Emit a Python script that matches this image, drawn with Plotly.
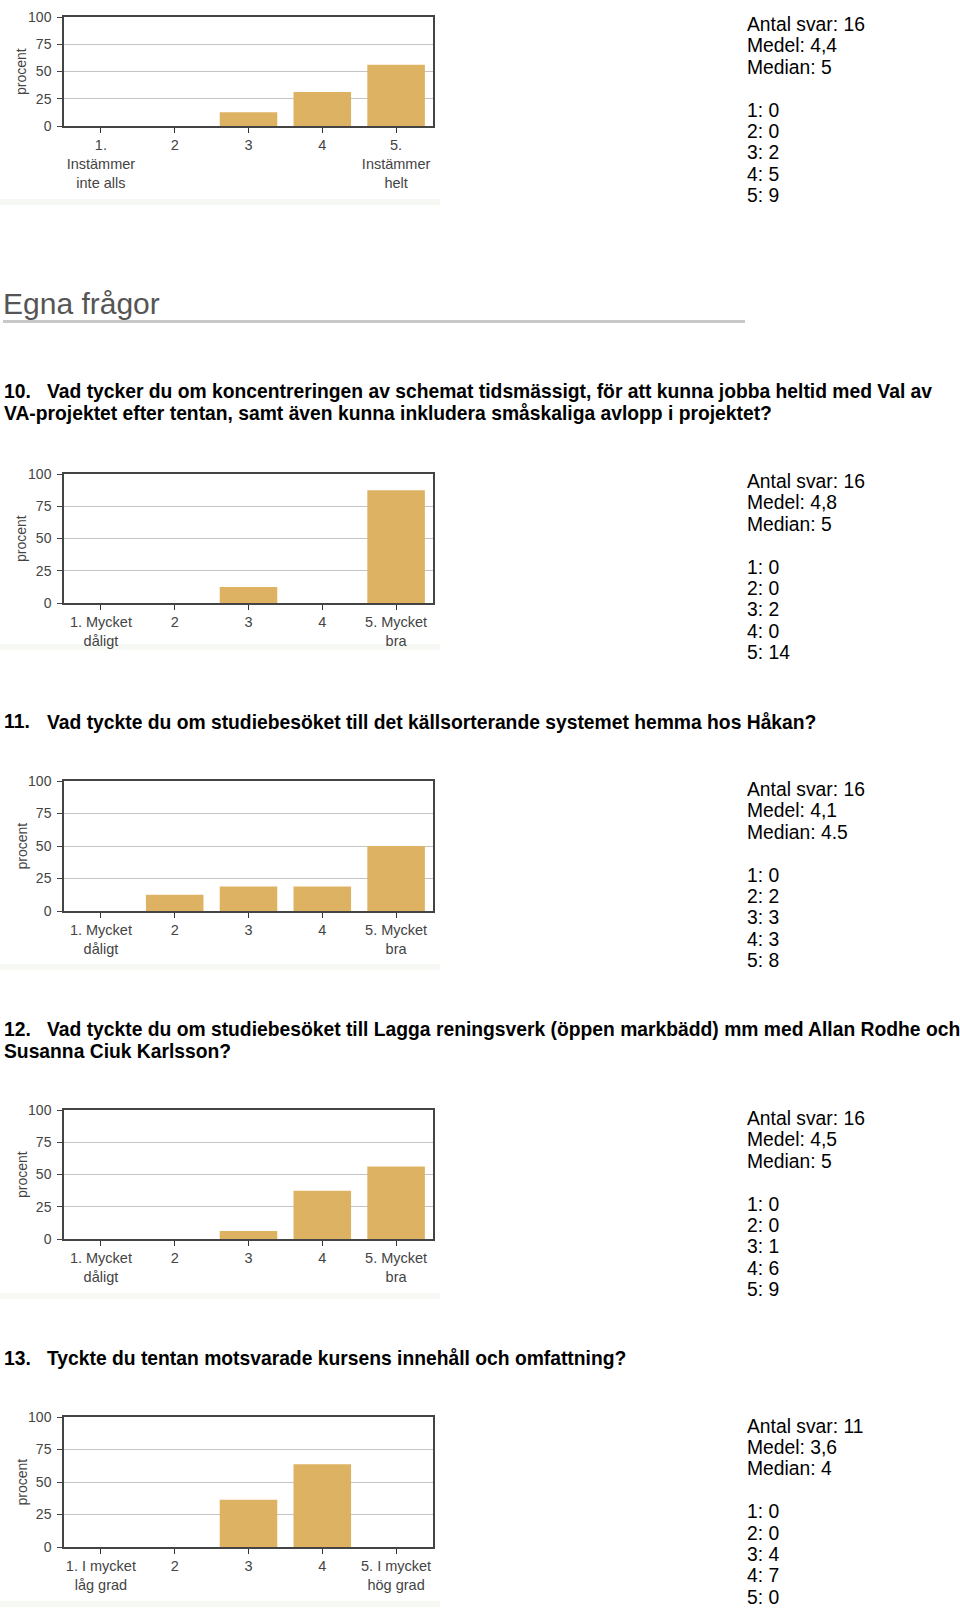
import plotly.graph_objects as go

W, H = 960, 1609
FONT = "Liberation Sans, Arial, sans-serif"

categories = ["1", "2", "3", "4", "5"]

labels_a = ["1.<br>Instämmer<br>inte alls", "2", "3", "4", "5.<br>Instämmer<br>helt"]
labels_b = ["1. Mycket<br>dåligt", "2", "3", "4", "5. Mycket<br>bra"]
labels_c = ["1. I mycket<br>låg grad", "2", "3", "4", "5. I mycket<br>hög grad"]

pct_q9 = [0, 0, 12.5, 31.25, 56.25]
pct_q10 = [0, 0, 12.5, 0, 87.5]
pct_q11 = [0, 12.5, 18.75, 18.75, 50]
pct_q12 = [0, 0, 6.25, 37.5, 56.25]
pct_q13 = [0, 0, 36.4, 63.6, 0]

counts_q9 = [0, 0, 2, 5, 9]
counts_q10 = [0, 0, 2, 0, 14]
counts_q11 = [0, 2, 3, 3, 8]
counts_q12 = [0, 0, 1, 6, 9]
counts_q13 = [0, 0, 4, 7, 0]

n_answers = [16, 16, 16, 16, 11]
means = ["4,4", "4,8", "4,1", "4,5", "3,6"]
medians = ["5", "5", "4.5", "5", "4"]

section_title = "Egna frågor"
questions = [
    ("10.", ["Vad tycker du om koncentreringen av schemat tidsmässigt, för att kunna jobba heltid med Val av",
             "VA-projektet efter tentan, samt även kunna inkludera småskaliga avlopp i projektet?"]),
    ("11.", ["Vad tyckte du om studiebesöket till det källsorterande systemet hemma hos Håkan?"]),
    ("12.", ["Vad tyckte du om studiebesöket till Lagga reningsverk (öppen markbädd) mm med Allan Rodhe och",
             "Susanna Ciuk Karlsson?"]),
    ("13.", ["Tyckte du tentan motsvarade kursens innehåll och omfattning?"]),
]

# layout (pixel positions)
plot_x = (64, 433)
plot_y = [(17, 126), (474, 603), (781, 911), (1110, 1239), (1417, 1547)]
stats_top = [24.5, 481.5, 789.5, 1118.5, 1426]
strip_y = [203, 648, 968, 1297, 1605]
q_lines_y = [[391, 413.5], [721.5], [1029.5, 1051], [1358]]

charts = [
    (pct_q9, counts_q9, labels_a),
    (pct_q10, counts_q10, labels_b),
    (pct_q11, counts_q11, labels_b),
    (pct_q12, counts_q12, labels_b),
    (pct_q13, counts_q13, labels_c),
]

def px(x):
    return x / W

def py(y):
    return 1 - y / H

fig = go.Figure()
annotations = []
shapes = []
layout_axes = {}

for i, (pct, counts, labels) in enumerate(charts):
    k = "" if i == 0 else str(i + 1)
    fig.add_trace(go.Bar(
        x=categories, y=pct,
        xaxis="x" + k, yaxis="y" + k,
        marker=dict(color="#ddb363", line=dict(width=0)),
        width=0.78,
        showlegend=False, hoverinfo="skip",
    ))
    y0, y1 = plot_y[i]
    layout_axes["xaxis" + k] = dict(
        domain=[px(plot_x[0]), px(plot_x[1])],
        anchor="y" + k,
        type="category",
        tickmode="array", tickvals=categories, ticktext=labels,
        ticks="outside", ticklen=5, tickcolor="#333",
        showline=True, linecolor="#444", linewidth=1.5, mirror=True,
        showgrid=False, zeroline=False, fixedrange=True, automargin=False,
        tickfont=dict(family=FONT, size=14.5, color="#444"),
        ticklabelstandoff=0,
    )
    layout_axes["yaxis" + k] = dict(
        domain=[py(y1), py(y0)],
        anchor="x" + k,
        range=[0, 100],
        tickmode="array", tickvals=[0, 25, 50, 75, 100],
        ticks="outside", ticklen=5, tickcolor="#444",
        showline=True, linecolor="#444", linewidth=1.5, mirror=True,
        showgrid=True, gridcolor="#c4c4c4", gridwidth=1,
        zeroline=False, fixedrange=True, automargin=False,
        tickfont=dict(family=FONT, size=14, color="#444"),
        ticklabelstandoff=3,
    )
    annotations.append(dict(
        text="procent", textangle=-90, showarrow=False,
        xref="paper", yref="paper", x=px(21.5), y=py((y0 + y1) / 2),
        xanchor="center", yanchor="middle",
        font=dict(family=FONT, size=14, color="#444"),
    ))
    shapes.append(dict(type="rect", xref="paper", yref="paper",
                       x0=0, x1=px(440), y0=py(strip_y[i] + 2), y1=py(strip_y[i] - 4),
                       fillcolor="#f6f9f3", line=dict(width=0), layer="below"))
    lines = [f"Antal svar: {n_answers[i]}", f"Medel: {means[i]}", f"Median: {medians[i]}", None]
    lines += [f"{j + 1}: {c}" for j, c in enumerate(counts)]
    for j, t in enumerate(lines):
        if t is None:
            continue
        annotations.append(dict(
            text=t, showarrow=False, xref="paper", yref="paper",
            x=px(745), y=py(stats_top[i] + j * 21.4),
            xanchor="left", yanchor="middle",
            font=dict(family=FONT, size=19.3, color="#000"),
        ))

annotations.append(dict(
    text=section_title, showarrow=False, xref="paper", yref="paper",
    x=px(1), y=py(304), xanchor="left", yanchor="middle",
    font=dict(family=FONT, size=30, color="#555"),
))
shapes.append(dict(type="line", xref="paper", yref="paper",
                   x0=px(3), x1=px(745), y0=py(321.5), y1=py(321.5),
                   line=dict(color="#c8c8c8", width=3)))

QF = 19.3
for (num, qlines), ys in zip(questions, q_lines_y):
    annotations.append(dict(
        text=f"<b>{num}</b>", showarrow=False, xref="paper", yref="paper",
        x=px(2), y=py(ys[0]), xanchor="left", yanchor="middle",
        font=dict(family=FONT, size=QF, color="#000"),
    ))
    for li, (t, yy) in enumerate(zip(qlines, ys)):
        annotations.append(dict(
            text=f"<b>{t}</b>", showarrow=False, xref="paper", yref="paper",
            x=px(45 if li == 0 else 2), y=py(yy), xanchor="left", yanchor="middle",
            font=dict(family=FONT, size=QF, color="#000"),
        ))

fig.update_layout(
    width=W, height=H,
    margin=dict(l=0, r=0, t=0, b=0, pad=0, autoexpand=False),
    paper_bgcolor="#ffffff", plot_bgcolor="#ffffff",
    bargap=0.22,
    annotations=annotations, shapes=shapes,
    **layout_axes,
)

page_fix = (
    "document.documentElement.style.margin='0';"
    "document.body.style.margin='0';document.body.style.padding='0';"
    "document.body.style.overflow='hidden';"
)

fig.write_html("out.html", config={"displayModeBar": False}, post_script=page_fix)
